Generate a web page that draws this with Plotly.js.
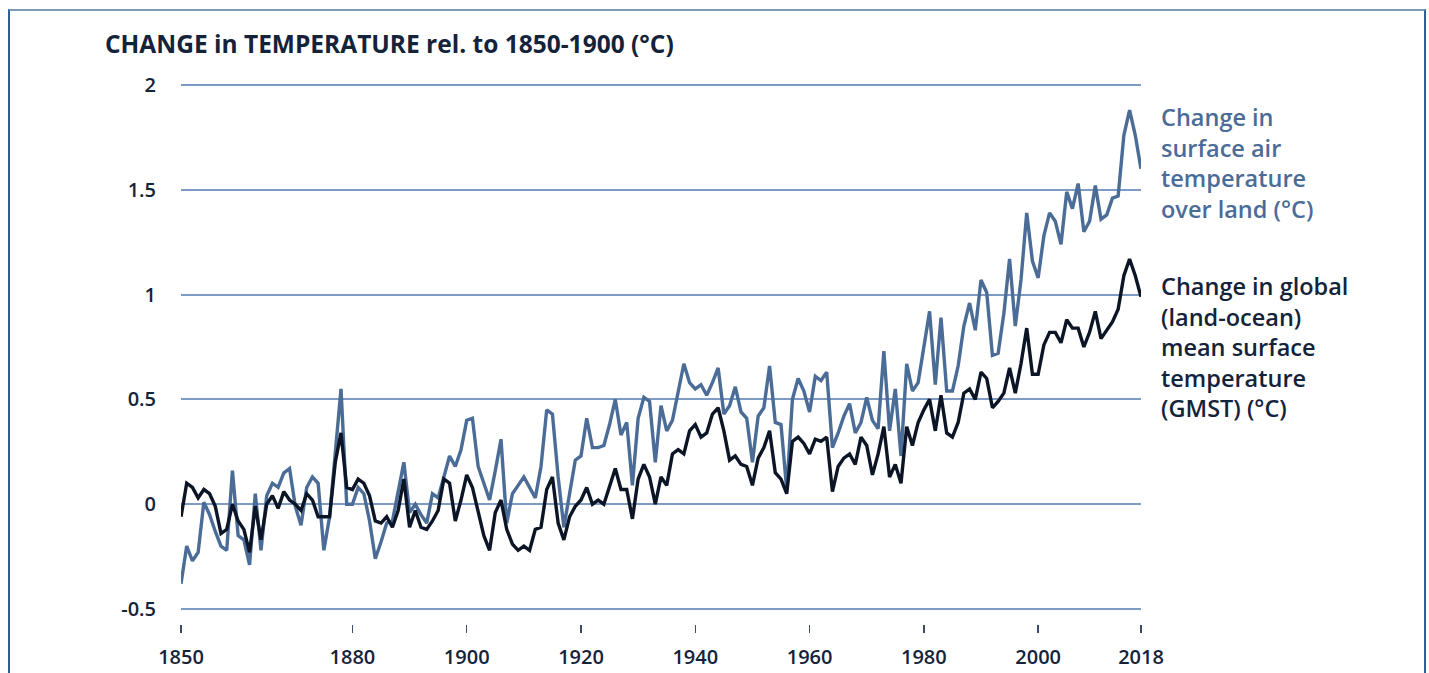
<!DOCTYPE html>
<html>
<head>
<meta charset="utf-8">
<script src="https://cdn.plot.ly/plotly-3.0.1.min.js"></script>
<style>
  html, body { margin: 0; padding: 0; background: #ffffff; }
  #chart { width: 1429px; height: 673px; position: absolute; left: 0; top: 0; }
  #frame { position: absolute; left: 8px; top: 9px; width: 1414px; height: 700px;
           border-top: 2px solid #7d9ab8; border-left: 2px solid #2f5f9a; border-right: 2px solid #2f5f9a;
           pointer-events: none; }
</style>
</head>
<body>
<div id="chart"></div>
<div id="frame"></div>
<script>
// ---- Data ----
const startYear = 1850;
const endYear = 2018;

const landAirTemp = [
  -0.38, -0.20, -0.27, -0.23, 0.01, -0.05, -0.13, -0.20, -0.22, 0.16,   // 1850-1859
  -0.15, -0.17, -0.29, 0.05, -0.22, 0.04, 0.10, 0.08, 0.15, 0.17,       // 1860-1869
  -0.01, -0.10, 0.08, 0.13, 0.10, -0.22, -0.06, 0.25, 0.55, 0.00,       // 1870-1879
  0.00, 0.08, 0.05, -0.08, -0.26, -0.18, -0.09, -0.08, 0.05, 0.20,      // 1880-1889
  -0.04, 0.00, -0.05, -0.09, 0.05, 0.03, 0.13, 0.23, 0.18, 0.26,        // 1890-1899
  0.40, 0.41, 0.18, 0.10, 0.02, 0.16, 0.31, -0.09, 0.05, 0.09,          // 1900-1909
  0.13, 0.08, 0.03, 0.18, 0.45, 0.43, 0.13, -0.11, 0.04, 0.21,          // 1910-1919
  0.23, 0.41, 0.27, 0.27, 0.28, 0.38, 0.50, 0.33, 0.39, 0.09,           // 1920-1929
  0.41, 0.51, 0.49, 0.20, 0.47, 0.35, 0.40, 0.53, 0.67, 0.58,           // 1930-1939
  0.55, 0.57, 0.52, 0.58, 0.65, 0.43, 0.47, 0.56, 0.44, 0.41,           // 1940-1949
  0.20, 0.42, 0.46, 0.66, 0.39, 0.38, 0.07, 0.50, 0.60, 0.54,           // 1950-1959
  0.44, 0.61, 0.59, 0.63, 0.27, 0.34, 0.42, 0.48, 0.34, 0.39,           // 1960-1969
  0.51, 0.40, 0.36, 0.73, 0.35, 0.55, 0.23, 0.67, 0.54, 0.58,           // 1970-1979
  0.74, 0.92, 0.57, 0.89, 0.54, 0.54, 0.66, 0.85, 0.96, 0.83,           // 1980-1989
  1.07, 1.01, 0.71, 0.72, 0.91, 1.17, 0.85, 1.07, 1.39, 1.16,           // 1990-1999
  1.08, 1.28, 1.39, 1.35, 1.24, 1.49, 1.41, 1.53, 1.30, 1.35,           // 2000-2009
  1.52, 1.36, 1.38, 1.46, 1.47, 1.76, 1.88, 1.76, 1.60                  // 2010-2018
];

const gmst = [
  -0.06, 0.10, 0.08, 0.03, 0.07, 0.05, -0.01, -0.14, -0.12, 0.00,      // 1850-1859
  -0.08, -0.12, -0.23, -0.01, -0.17, 0.00, 0.04, -0.02, 0.06, 0.02,     // 1860-1869
  0.00, -0.03, 0.05, 0.02, -0.06, -0.06, -0.06, 0.20, 0.34, 0.08,       // 1870-1879
  0.07, 0.12, 0.10, 0.04, -0.08, -0.09, -0.06, -0.11, -0.03, 0.12,      // 1880-1889
  -0.11, -0.03, -0.11, -0.12, -0.08, -0.03, 0.12, 0.10, -0.08, 0.02,    // 1890-1899
  0.14, 0.08, -0.04, -0.15, -0.22, -0.04, 0.02, -0.12, -0.19, -0.22,    // 1900-1909
  -0.20, -0.22, -0.12, -0.11, 0.07, 0.13, -0.09, -0.17, -0.06, -0.01,   // 1910-1919
  0.02, 0.08, 0.00, 0.02, 0.00, 0.08, 0.17, 0.07, 0.07, -0.07,          // 1920-1929
  0.12, 0.19, 0.13, 0.00, 0.13, 0.09, 0.24, 0.26, 0.24, 0.35,           // 1930-1939
  0.38, 0.32, 0.34, 0.43, 0.46, 0.35, 0.21, 0.23, 0.19, 0.18,           // 1940-1949
  0.09, 0.22, 0.27, 0.35, 0.15, 0.12, 0.05, 0.30, 0.32, 0.29,           // 1950-1959
  0.24, 0.31, 0.30, 0.32, 0.06, 0.18, 0.22, 0.24, 0.19, 0.32,           // 1960-1969
  0.28, 0.14, 0.24, 0.37, 0.13, 0.19, 0.10, 0.37, 0.28, 0.39,           // 1970-1979
  0.45, 0.50, 0.35, 0.52, 0.34, 0.32, 0.39, 0.53, 0.55, 0.50,           // 1980-1989
  0.63, 0.60, 0.46, 0.49, 0.53, 0.65, 0.53, 0.67, 0.84, 0.62,           // 1990-1999
  0.62, 0.76, 0.82, 0.82, 0.77, 0.88, 0.84, 0.84, 0.75, 0.82,           // 2000-2009
  0.92, 0.79, 0.83, 0.87, 0.93, 1.09, 1.17, 1.09, 0.99                  // 2010-2018
];

const xTickVals = [1850, 1880, 1900, 1920, 1940, 1960, 1980, 2000, 2018];
const yTickVals = [-0.5, 0, 0.5, 1, 1.5, 2];
const yTickText = ['-0.5', '0', '0.5', '1', '1.5', '2'];

const titleText = 'CHANGE in TEMPERATURE rel. to 1850-1900 (°C)';
const landLabelLines = ['Change in', 'surface air', 'temperature', 'over land (°C)'];
const gmstLabelLines = ['Change in global', '(land-ocean)', 'mean surface', 'temperature', '(GMST) (°C)'];

// ---- Build ----
const years = [];
for (let y = startYear; y <= endYear; y++) years.push(y);

const landColor = '#4b6c97';
const gmstColor = '#0b1526';
const textDark = '#14233a';
const fontFam = 'Open Sans, sans-serif';

const W = 1429, H = 673;
const mL = 181, mR = W - 1141, mT = 75, mB = H - 624;
const plotH = H - mT - mB;
function paperY(py) { return (H - mB - py) / plotH; }
function paperX(px) { return (px - mL) / (W - mL - mR); }

// y range from pixel calibration: 2 -> py 85, -0.5 -> py 609
function paperToVal(p) {
  const py = H - mB - p * plotH;
  const perUnit = (609 - 85) / 2.5;
  return 2 - (py - 85) / perUnit;
}

const annotations = [
  { text: landLabelLines.join('<br>'), xref: 'paper', yref: 'paper',
    x: paperX(1159), y: paperY(99), xanchor: 'left', yanchor: 'top', align: 'left',
    showarrow: false, font: { family: fontFam, size: 23.5, weight: 600, color: landColor } },
  { text: gmstLabelLines.join('<br>'), xref: 'paper', yref: 'paper',
    x: paperX(1159), y: paperY(268), xanchor: 'left', yanchor: 'top', align: 'left',
    showarrow: false, font: { family: fontFam, size: 23.5, weight: 600, color: textDark } },
  { text: titleText, xref: 'paper', yref: 'paper',
    x: paperX(103), y: paperY(43), xanchor: 'left', yanchor: 'middle', showarrow: false,
    font: { family: fontFam, size: 24.5, weight: 700, color: textDark } }
];

const traces = [
  { x: years, y: landAirTemp, type: 'scatter', mode: 'lines', name: 'land',
    line: { color: landColor, width: 3.4 }, hoverinfo: 'skip' },
  { x: years, y: gmst, type: 'scatter', mode: 'lines', name: 'gmst',
    line: { color: gmstColor, width: 3.4 }, hoverinfo: 'skip' }
];

const layout = {
  width: W, height: H,
  margin: { l: mL, r: mR, t: mT, b: mB, pad: 0 },
  paper_bgcolor: '#ffffff', plot_bgcolor: '#ffffff',
  showlegend: false,
  xaxis: {
    range: [startYear, endYear], tickmode: 'array', tickvals: xTickVals,
    ticktext: xTickVals.map(String),
    showgrid: false, zeroline: false, showline: false,
    ticks: 'outside', ticklen: 8, tickwidth: 1.5, tickcolor: '#3b4d66',
    ticklabelstandoff: 7,
    tickfont: { family: fontFam, size: 20, weight: 600, color: textDark }
  },
  yaxis: {
    range: [paperToVal(0), paperToVal(1)],
    tickmode: 'array', tickvals: yTickVals, ticktext: yTickText,
    showgrid: true, gridcolor: '#7f9bc3', gridwidth: 2,
    zeroline: false, showline: false, ticks: '',
    ticklabelstandoff: 24,
    tickfont: { family: fontFam, size: 20, weight: 600, color: textDark }
  },
  annotations: annotations
};

Plotly.newPlot('chart', traces, layout, { staticPlot: true, displayModeBar: false });
</script>
</body>
</html>
